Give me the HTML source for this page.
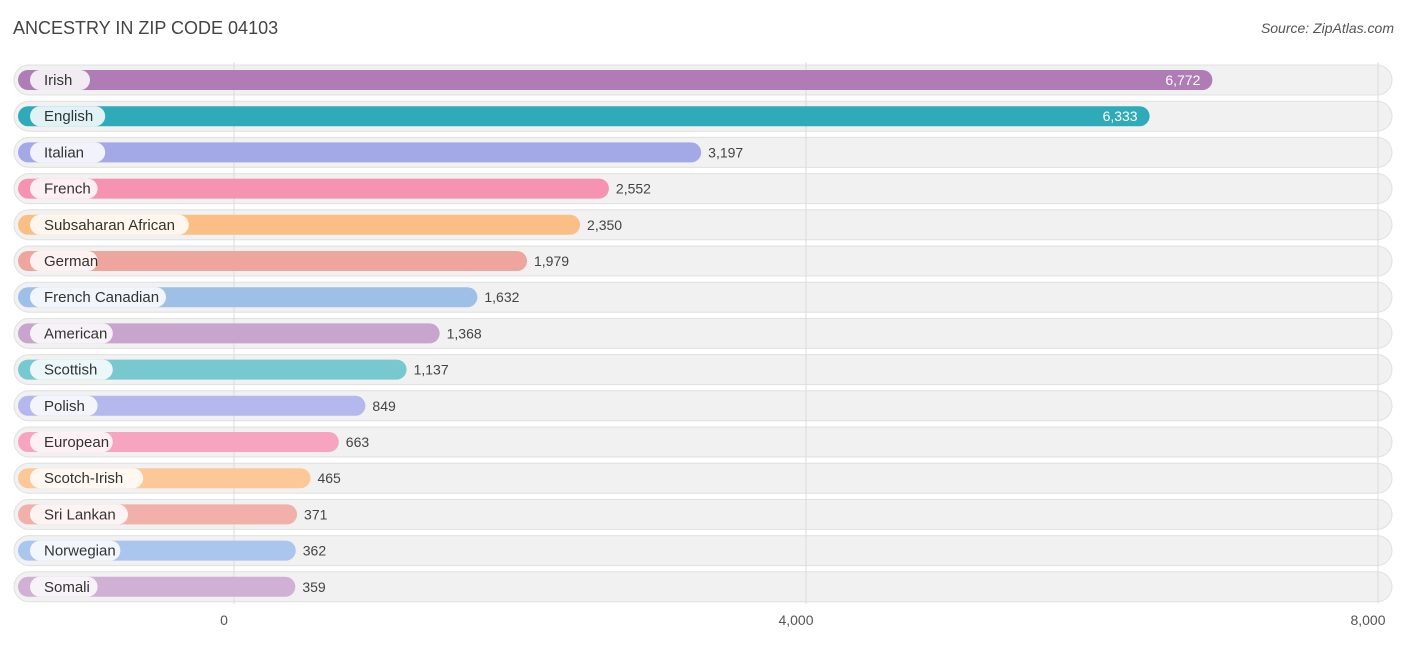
<!DOCTYPE html>
<html><head><meta charset="utf-8">
<style>
body{margin:0;background:#fff;font-family:"Liberation Sans",sans-serif;}
svg text{font-family:"Liberation Sans",sans-serif;}
</style></head>
<body>
<svg id="chart" width="1406" height="644" xmlns="http://www.w3.org/2000/svg">
<text x="13" y="34" font-size="18" fill="#444">ANCESTRY IN ZIP CODE 04103</text>
<text x="1394" y="33" font-size="14" fill="#555" text-anchor="end" font-style="italic">Source: ZipAtlas.com</text>
<g id="rows"></g>
<g id="grid"></g>
<g id="ticks"></g>
</svg>
<script>
const categories=["Irish","English","Italian","French","Subsaharan African","German","French Canadian","American","Scottish","Polish","European","Scotch-Irish","Sri Lankan","Norwegian","Somali"];
const values=[6772,6333,3197,2552,2350,1979,1632,1368,1137,849,663,465,371,362,359];
const tickValues=[0,4000,8000];
const tickLabels=["0","4,000","8,000"];
const colors=["#b07cb5","#2eaab9","#a3a9e6","#f793b2","#fbbf86","#eea59e","#9ebfe6","#c8a5cc","#78c8cf","#b4b8ec","#f7a4c0","#fcc898","#f2b0aa","#aac6ee","#d0b0d4"];
const NS="http://www.w3.org/2000/svg";
const x0=234,scale=572/4000;
const xs=v=>x0+v*scale;
const y0=80,pitch=36.2;
function mk(tag,attrs,parent){const e=document.createElementNS(NS,tag);for(const k in attrs)e.setAttribute(k,attrs[k]);parent.appendChild(e);return e;}
const grid=document.getElementById('grid'),rows=document.getElementById('rows'),ticks=document.getElementById('ticks');
categories.forEach((c,i)=>{
  const cy=y0+i*pitch;
  const bg=mk('rect',{x:14,y:cy-15,width:1378,height:30,rx:15,fill:'#f1f1f1',stroke:'#e0e0e0','stroke-width':1},rows);
  
  
});
tickValues.forEach((t,i)=>{
  const l=mk('line',{x1:xs(t),x2:xs(t),y1:62,y2:604,stroke:'#dcdcdc','stroke-width':1},grid);
  
  
  const tx=mk('text',{x:xs(t)-10,y:625,'font-size':14,fill:'#555','text-anchor':'middle'},ticks);
  
  
  tx.textContent=tickLabels[i];
});
const bars=document.createElementNS(NS,'g');document.getElementById('chart').appendChild(bars);
categories.forEach((c,i)=>{
  const cy=y0+i*pitch;
  const end=xs(values[i])+10;
  const b=mk('rect',{x:18,y:cy-10,width:end-18,height:20,rx:10,fill:colors[i]},bars);
  
  
  const w=c.length*7.6+22;
  const p=mk('rect',{x:30,y:cy-10,width:w,height:20,rx:10,fill:'#fff',opacity:0.85},bars);
  
  
  const lt=mk('text',{x:44,y:cy+5,'font-size':15,fill:'#333'},bars);
  
  
  lt.textContent=c;
  const inside=i<2;
  const vt=mk('text',{x:inside?end-12:end+7,y:cy+5,'font-size':14,fill:inside?'#fff':'#444','text-anchor':inside?'end':'start'},bars);
  
  
  vt.textContent=values[i].toLocaleString('en-US');
});
</script>
</body></html>
